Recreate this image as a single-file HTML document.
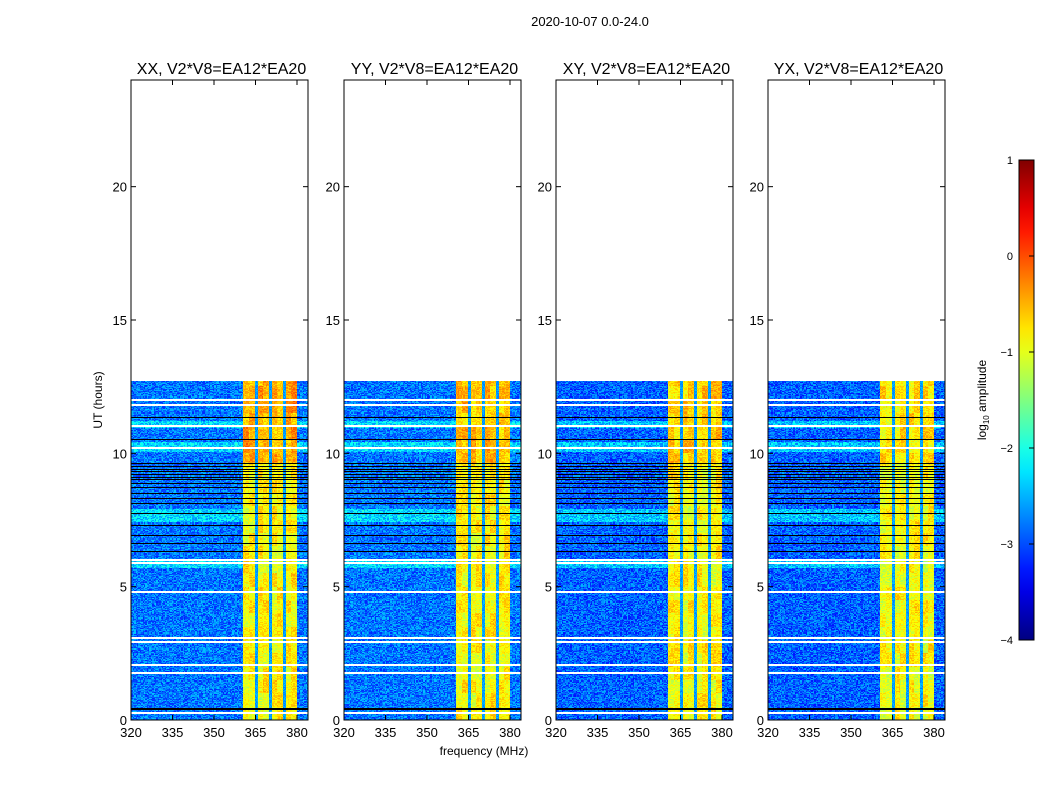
<!DOCTYPE html>
<html><head><meta charset="utf-8"><style>
body{margin:0;background:#fff;width:1050px;height:800px;overflow:hidden;position:relative;font-family:"Liberation Sans",sans-serif}
canvas{position:absolute;image-rendering:pixelated}
svg{position:absolute;left:0;top:0}
</style></head><body>
<div id="heat"></div>
<svg id="ax" width="1050" height="800"></svg>
<script>
// ---- data ----
const panelTitles=["XX, V2*V8=EA12*EA20","YY, V2*V8=EA12*EA20","XY, V2*V8=EA12*EA20","YX, V2*V8=EA12*EA20"];
const xTicks=[320,335,350,365,380];
const yTicks=[0,5,10,15,20];
const cbTicks=[-4,-3,-2,-1,0,1];
const tEnd=12.7;
const bandEdges=[360.4,380.0];
const gapCenters=[365.2,370.2,375.3];
const bandUpper=[-0.45,-0.6,-0.65,-0.75];
const bandLower=[-0.85,-0.85,-0.85,-0.9];
const bgLevel=[-2.8,-2.8,-2.9,-2.9];
const whiteRows=[0.26,1.75,2.06,2.93,3.07,4.8,5.88,5.98,10.2,11.0,11.8,12.0];
const blackRows=[0.38,0.44,6.3,6.6,6.9,7.3,7.75,8.1,8.3,8.5,8.7,8.85,9.0,9.1,9.2,9.3,9.4,9.5,9.6,10.5,11.35];
const cyanRanges=[[5.7,6.05],[7.4,7.9],[10.05,10.4],[10.95,11.2]];

// ---- geometry ----
const panelX=[131,344,556,768], pw=177, y0=720, yTop=80;
const xs=(f,i)=>panelX[i]+(f-320)*41.5/15;
const ys=h=>y0-h*(y0-yTop)/24;
const NS="http://www.w3.org/2000/svg";
const svg=document.getElementById('ax');
function el(t,a,txt){const e=document.createElementNS(NS,t);for(const k in a)e.setAttribute(k,a[k]);if(txt!==undefined)e.textContent=txt;svg.appendChild(e);return e;}
function jet(v){
  const c=x=>Math.max(0,Math.min(1,x));
  return [c(1.5-Math.abs(4*v-3)),c(1.5-Math.abs(4*v-2)),c(1.5-Math.abs(4*v-1))].map(q=>Math.round(q*255));
}
function hash(a,b,c){let h=(a*374761393+b*668265263+c*2147483647)|0;h=(h^(h>>>13))*1274126177;h=h^(h>>>16);return ((h>>>0)%10000)/10000;}
const heat=document.getElementById('heat');
for(let p=0;p<4;p++){
  const H=Math.round(ys(0)-ys(tEnd));
  const cv=document.createElement('canvas');
  cv.width=pw;cv.height=H;
  cv.style.left=panelX[p]+'px';cv.style.top=(y0-H)+'px';
  
  
  heat.appendChild(cv);
  const ctx=cv.getContext('2d');const img=ctx.createImageData(pw,H);
  for(let y=0;y<H;y++){
    const h=(H-y-0.5)/H*tEnd;const row=Math.floor(h/0.04);
    let flag=0;
    for(const w of whiteRows) if(Math.abs(h-w)<0.035) flag=1;
    for(const b of blackRows) if(Math.abs(h-b)<0.02) flag=2;
    let cy=false;for(const r of cyanRanges) if(h>r[0]&&h<r[1]) cy=true;
    for(let x=0;x<pw;x++){
      const f=320+x*15/41.5;const ch=Math.floor(f/0.5);
      const n=hash(row,ch,p)-0.5;
      const n2=hash(Math.floor(h/0.5),Math.floor(f/2.5),p+7)-0.5;
      let v;
      if(f>=bandEdges[0]&&f<bandEdges[1]){
        v=(h>9.6?bandUpper[p]:bandLower[p])+n*0.45+n2*0.5;
        for(const g of gapCenters) if(Math.abs(f-g)<0.45) v=-2.6+n*0.4;
      } else {
        v=bgLevel[p]+n*0.8+(cy?0.5:0);
      }
      let rgb=jet(Math.max(0,Math.min(1,(v+4)/5)));
      if(flag===1) rgb=[255,255,255];
      if(flag===2) rgb=[0,0,0];
      const k=(y*pw+x)*4;img.data[k]=rgb[0];img.data[k+1]=rgb[1];img.data[k+2]=rgb[2];img.data[k+3]=255;
    }
  }
  ctx.putImageData(img,0,0);
}
// ---- axes ----
el('text',{x:590,y:26,'font-size':13,'text-anchor':'middle',},'2020-10-07 0.0-24.0');
for(let p=0;p<4;p++){
  const x0=panelX[p];
  el('rect',{x:x0,y:yTop,width:pw,height:y0-yTop,fill:'none',stroke:'#000','stroke-width':1,});
  el('text',{x:x0+pw/2+2,y:74,'font-size':16,'text-anchor':'middle',},panelTitles[p]);
  for(const t of xTicks){const x=xs(t,p);
    el('line',{x1:x,x2:x,y1:y0,y2:y0-5,stroke:'#000',});
    el('line',{x1:x,x2:x,y1:yTop,y2:yTop+5,stroke:'#000',});
    el('text',{x:x,y:737,'font-size':13,'text-anchor':'middle',},t);}
  for(const t of yTicks){const y=ys(t);
    el('line',{x1:x0,x2:x0+5,y1:y,y2:y,stroke:'#000',});
    el('line',{x1:x0+pw,x2:x0+pw-5,y1:y,y2:y,stroke:'#000',});
    el('text',{x:x0-4,y:y+5,'font-size':13,'text-anchor':'end',},t);}
}
el('text',{x:484,y:755,'font-size':12,'text-anchor':'middle',},'frequency (MHz)');
el('text',{x:102,y:400,'font-size':12,'text-anchor':'middle',transform:'rotate(-90 102 400)',},'UT (hours)');
// colorbar
const defs=el('defs',{});
const lg=document.createElementNS(NS,'linearGradient');lg.setAttribute('id','jetg');lg.setAttribute('x1','0');lg.setAttribute('y1','1');lg.setAttribute('x2','0');lg.setAttribute('y2','0');
for(let i=0;i<=20;i++){const s=document.createElementNS(NS,'stop');const c=jet(i/20);s.setAttribute('offset',i/20);s.setAttribute('stop-color',`rgb(${c})`);lg.appendChild(s);}
defs.appendChild(lg);
el('rect',{x:1019,y:160,width:15,height:480,fill:'url(#jetg)',stroke:'#000',});
for(const t of cbTicks){const y=640-(t+4)*96;
  el('line',{x1:1029,x2:1034,y1:y,y2:y,stroke:'#000',});
  el('text',{x:1013,y:y+4,'font-size':11,'text-anchor':'end',},t<0?'\u2212'+(-t):t);}
const ct=el('text',{x:986,y:400,'font-size':12,'text-anchor':'middle',transform:'rotate(-90 986 400)',});
ct.innerHTML='log<tspan font-size="8" dy="3">10</tspan><tspan dy="-3"> amplitude</tspan>';
</script>
</body></html>
